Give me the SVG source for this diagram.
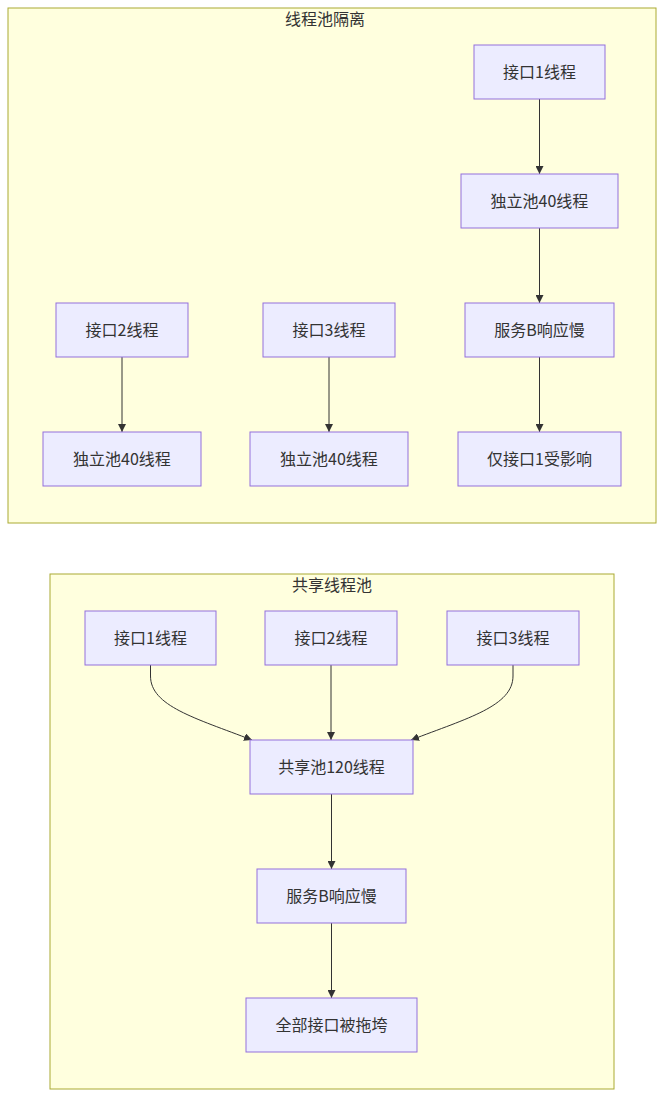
<svg xmlns="http://www.w3.org/2000/svg" width="664" height="1098" viewBox="0 0 664 1098">
<style>
.cluster{fill:#ffffde;stroke:#aaaa33;stroke-width:1}
.node rect{fill:#ECECFF;stroke:#9370DB;stroke-width:1}
text{font-family:"Noto Sans CJK SC","Noto Sans",sans-serif;font-size:16px;fill:#333333;text-anchor:middle}
.edge{fill:none;stroke:#333333;stroke-width:1}
</style>
<defs>
<marker id="arrow" viewBox="0 0 10 10" refX="10" refY="5" markerUnits="userSpaceOnUse" markerWidth="8" markerHeight="8" orient="auto">
<path d="M0,0 L10,5 L0,10 z" fill="#333333"/>
</marker>
</defs>
<rect width="664" height="1098" fill="#ffffff"/>
<g id="cluster-isolation">
<rect class="cluster" x="8" y="8" width="648" height="515"/>
<text x="325" y="25">线程池隔离</text>
</g>
<g id="cluster-shared">
<rect class="cluster" x="50" y="574" width="564" height="515"/>
<text x="332" y="591">共享线程池</text>
</g>
<g id="edges">
<path class="edge" d="M539.5,99 L539.5,174" marker-end="url(#arrow)"/>
<path class="edge" d="M539.5,228 L539.5,303" marker-end="url(#arrow)"/>
<path class="edge" d="M539.5,357 L539.5,432" marker-end="url(#arrow)"/>
<path class="edge" d="M122,357 L122,432" marker-end="url(#arrow)"/>
<path class="edge" d="M329,357 L329,432" marker-end="url(#arrow)"/>
<path class="edge" d="M150.5,665 L150.5,676 C150.5,706 195,718 252,740" marker-end="url(#arrow)"/>
<path class="edge" d="M331,665 L331,740" marker-end="url(#arrow)"/>
<path class="edge" d="M513,665 L513,676 C513,706 468,718 411,740" marker-end="url(#arrow)"/>
<path class="edge" d="M331.5,794 L331.5,869" marker-end="url(#arrow)"/>
<path class="edge" d="M331.5,923 L331.5,998" marker-end="url(#arrow)"/>
</g>
<g id="iso-a1" class="node"><rect x="474" y="45" width="131" height="54"/><text x="539.5" y="77.5">接口1线程</text></g>
<g id="iso-p1" class="node"><rect x="461" y="174" width="157" height="54"/><text x="539.5" y="206.5">独立池40线程</text></g>
<g id="iso-b" class="node"><rect x="465" y="303" width="149" height="54"/><text x="539.5" y="335.5">服务B响应慢</text></g>
<g id="iso-r" class="node"><rect x="458" y="432" width="163" height="54"/><text x="539.5" y="464.5">仅接口1受影响</text></g>
<g id="iso-a2" class="node"><rect x="56" y="303" width="132" height="54"/><text x="122" y="335.5">接口2线程</text></g>
<g id="iso-p2" class="node"><rect x="43" y="432" width="158" height="54"/><text x="122" y="464.5">独立池40线程</text></g>
<g id="iso-a3" class="node"><rect x="263" y="303" width="132" height="54"/><text x="329" y="335.5">接口3线程</text></g>
<g id="iso-p3" class="node"><rect x="250" y="432" width="158" height="54"/><text x="329" y="464.5">独立池40线程</text></g>
<g id="sh-a1" class="node"><rect x="85" y="611" width="131" height="54"/><text x="150.5" y="643.5">接口1线程</text></g>
<g id="sh-a2" class="node"><rect x="265" y="611" width="132" height="54"/><text x="331" y="643.5">接口2线程</text></g>
<g id="sh-a3" class="node"><rect x="447" y="611" width="132" height="54"/><text x="513" y="643.5">接口3线程</text></g>
<g id="sh-pool" class="node"><rect x="250" y="740" width="163" height="54"/><text x="331.5" y="772.5">共享池120线程</text></g>
<g id="sh-b" class="node"><rect x="257" y="869" width="149" height="54"/><text x="331.5" y="901.5">服务B响应慢</text></g>
<g id="sh-r" class="node"><rect x="246" y="998" width="171" height="54"/><text x="331.5" y="1030.5">全部接口被拖垮</text></g>
</svg>
